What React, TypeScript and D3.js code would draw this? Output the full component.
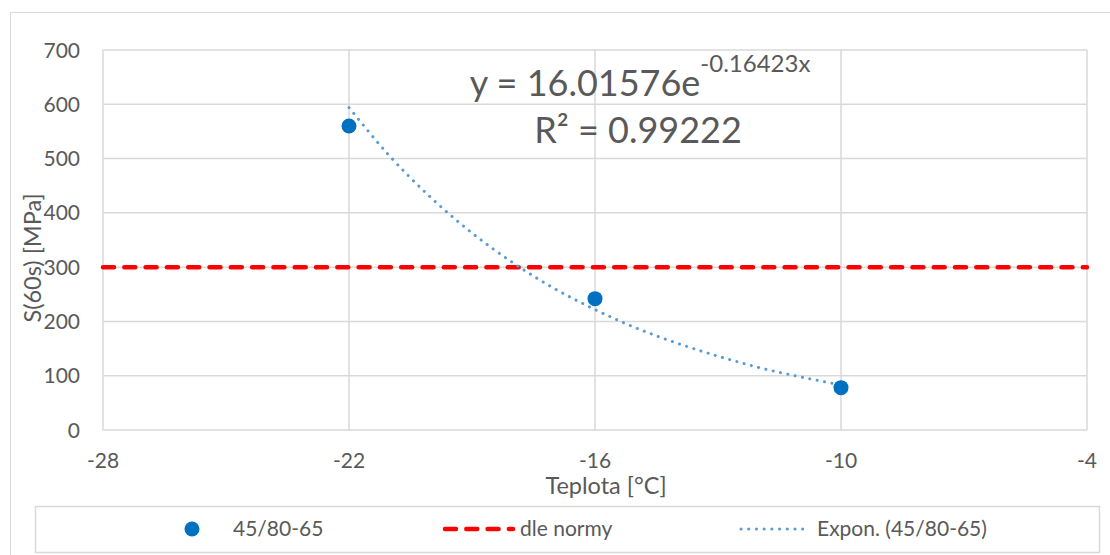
import React from "react";
import * as d3 from "d3";

// measured points (Teplota, S(60s))
const tempValues = [-22, -16, -10];
const stiffValues = [560, 242, 78];

// exponential trend
const trendTemps = [-22, -21, -20, -19, -18, -17, -16, -15, -14, -13, -12, -11, -10];
const trendValues = [594, 504, 428, 363, 308, 261, 222, 188, 160, 136, 115, 98, 83];

const normLimit = 300;

const xTicks = [-28, -22, -16, -10, -4];
const yTicks = [0, 100, 200, 300, 400, 500, 600, 700];

const legendLabels = ["45/80-65", "dle normy", "Expon. (45/80-65)"];
const equationMain = "y = 16.01576e";
const equationExp = "-0.16423x";
const rSquared = "R² = 0.99222";

const W = 1110;
const H = 555;
const font = "Lato, 'Open Sans', sans-serif";
const grey = "#595959";
const gridColor = "#d9d9d9";

const App = () => {
  const margin = { top: 50, right: 23, bottom: 125, left: 103 };
  const x = d3.scaleLinear().domain([-28, -4]).range([margin.left, W - margin.right]);
  const y = d3.scaleLinear().domain([0, 700]).range([H - margin.bottom, margin.top]);

  const trendLine = d3
    .line<number>()
    .x((d, i) => x(trendTemps[i]))
    .y((d) => y(d))
    .curve(d3.curveMonotoneX);

  const points = tempValues.map((t, i) => ({ t, v: stiffValues[i] }));

  return (
    <svg
      width={W}
      height={H}
      style={{ position: "absolute", left: 0, top: 0, background: "#fff" }}
    >
      {/* outer chart border */}
      <rect x={10.5} y={12.5} width={W} height={H} fill="none" stroke={gridColor} />

      {/* grid */}
      {yTicks.map((t) => (
        <line key={"gy" + t} x1={x(-28)} x2={x(-4)} y1={y(t)} y2={y(t)} stroke={gridColor} strokeWidth={1.5} />
      ))}
      {xTicks.map((t) => (
        <line key={"gx" + t} x1={x(t)} x2={x(t)} y1={y(0)} y2={y(700)} stroke={gridColor} strokeWidth={1.5} />
      ))}

      {/* tick labels */}
      {yTicks.map((t) => (
        <text key={"ty" + t} x={x(-28) - 23} y={y(t) + 7.5} textAnchor="end" fontFamily={font} fontSize={21} fill={grey}>
          {t}
        </text>
      ))}
      {xTicks.map((t) => (
        <text key={"tx" + t} x={x(t)} y={468} textAnchor="middle" fontFamily={font} fontSize={21} fill={grey}>
          {t}
        </text>
      ))}

      {/* axis titles */}
      <text x={606} y={494} textAnchor="middle" fontFamily={font} fontSize={23.5} fill={grey}>
        Teplota [°C]
      </text>
      <text
        transform={`translate(41,${258}) rotate(-90)`}
        textAnchor="middle"
        fontFamily={font}
        fontSize={23.5}
        fill={grey}
      >
        S(60s) [MPa]
      </text>

      {/* norm line */}
      <line
        x1={x(-28)}
        x2={x(-4)}
        y1={y(normLimit)}
        y2={y(normLimit)}
        stroke="#ff0000"
        strokeWidth={4.5}
        strokeDasharray="11 10.3"
        strokeLinecap="round"
      />

      {/* trend */}
      <path
        d={trendLine(trendValues) || ""}
        fill="none"
        stroke="#5b9bd5"
        strokeWidth={3}
        strokeDasharray="0.1 7.4"
        strokeLinecap="round"
      />

      {/* points */}
      {points.map((p) => (
        <circle key={p.t} cx={x(p.t)} cy={y(p.v)} r={7.5} fill="#0070c0" />
      ))}

      {/* equation */}
      <text x={640} y={96} textAnchor="middle" fontFamily={font} fontSize={36} fill={grey}>
        {equationMain}
        <tspan fontSize={24} dy={-24}>
          {equationExp}
        </tspan>
      </text>
      <text x={638} y={143} textAnchor="middle" fontFamily={font} fontSize={36} fill={grey}>
        {rSquared}
      </text>

      {/* legend */}
      <rect x={35.5} y={506.5} width={1064} height={46} fill="none" stroke={gridColor} strokeWidth={1.5} />
      <circle cx={192} cy={529} r={7.5} fill="#0070c0" />
      <text x={233} y={536} fontFamily={font} fontSize={21} fill={grey}>
        {legendLabels[0]}
      </text>
      <line x1={445} x2={513} y1={529} y2={529} stroke="#ff0000" strokeWidth={4.5} strokeDasharray="11 10.3" strokeLinecap="round" />
      <text x={520} y={536} fontFamily={font} fontSize={21} fill={grey}>
        {legendLabels[1]}
      </text>
      <line x1={741} x2={810} y1={529} y2={529} stroke="#5b9bd5" strokeWidth={3} strokeDasharray="0.1 7.6" strokeLinecap="round" />
      <text x={817} y={536} fontFamily={font} fontSize={21} fill={grey}>
        {legendLabels[2]}
      </text>
    </svg>
  );
};

export default App;
